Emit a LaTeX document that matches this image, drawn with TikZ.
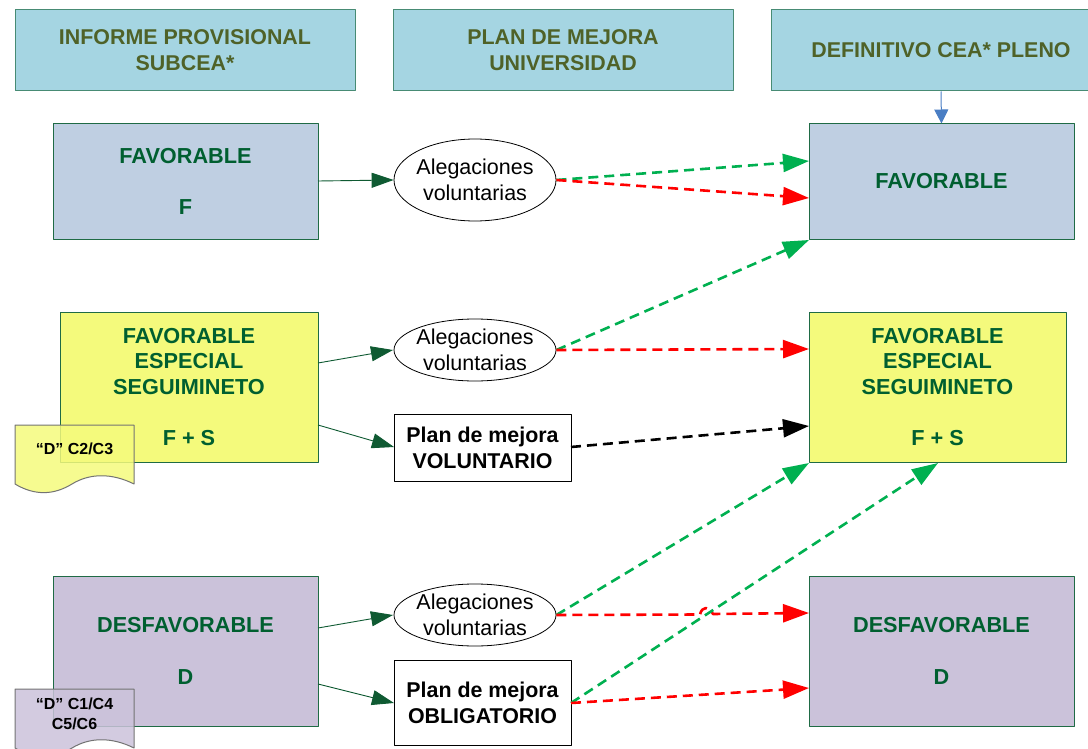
\documentclass[tikz,border=0pt]{standalone}
\usepackage{fontspec}
\setmainfont{Liberation Sans}
\usetikzlibrary{arrows.meta,shapes.geometric}
\definecolor{headfill}{HTML}{A5D5E2}
\definecolor{bluefill}{HTML}{BFCFE2}
\definecolor{yellowfill}{HTML}{F4FA7C}
\definecolor{purplefill}{HTML}{CBC2DA}
\definecolor{boxline}{HTML}{1F6B45}
\definecolor{boxtext}{HTML}{005F30}
\definecolor{headtext}{HTML}{4F6228}
\definecolor{entryline}{HTML}{0F5A32}
\definecolor{greenline}{HTML}{00B050}
\definecolor{blueline}{HTML}{4A7EC4}
\tikzset{
  headbox/.style={draw=boxline!70!headfill,fill=headfill,line width=1pt,minimum width=340pt,minimum height=81pt,align=center,text=headtext,font=\fontsize{21.4}{26}\selectfont\bfseries},
  resultbox/.style={draw=boxline,line width=1pt,align=center,text=boxtext,font=\fontsize{21.7}{25.6}\selectfont\bfseries},
  talk/.style={draw=black,ellipse,fill=white,line width=.8pt,minimum width=162pt,inner sep=-6pt,align=center,font=\fontsize{21.5}{26}\selectfont},
  planbox/.style={draw=black,fill=white,line width=.8pt,minimum width=177pt,align=center,font=\fontsize{21.4}{26}\selectfont\bfseries},
  docshape/.style={draw=black!55,line width=1pt,fill opacity=.85},
  doctext/.style={align=center,font=\fontsize{16}{20}\selectfont\bfseries},
  entry/.style={entryline,line width=.9pt,-{Triangle[length=22pt,width=15pt]}},
  dashgreen/.style={greenline,line width=2.6pt,dash pattern=on 10pt off 6pt,-{Triangle[length=26pt,width=18pt]}},
  dashred/.style={red,line width=2.6pt,dash pattern=on 10pt off 6pt,-{Triangle[length=26pt,width=18pt]}},
  dashblack/.style={black,line width=2.6pt,dash pattern=on 10pt off 6pt,-{Triangle[length=26pt,width=18pt]}}
}
\begin{document}
\begin{tikzpicture}[x=1pt,y=-1pt,line join=round]
	\useasboundingbox (0,0) rectangle (1088,749);
	\clip (0,0) rectangle (1088,749);
	% column heads
	\node[headbox] (headA) at (185,50.5) {INFORME PROVISIONAL\\SUBCEA*};
	\node[headbox] (headB) at (563,50.5) {PLAN DE MEJORA\\UNIVERSIDAD};
	\node[headbox] (headC) at (941,50.5) {DEFINITIVO CEA* PLENO};
	% left column
	\node[resultbox,fill=bluefill,minimum width=265pt,minimum height=115pt] (favL) at (185.5,181.5) {FAVORABLE\\ \\F};
	\node[resultbox,fill=yellowfill,minimum width=258pt,minimum height=150pt] (fesL) at (189,387) {FAVORABLE\\ESPECIAL\\SEGUIMINETO\\ \\F + S};
	\node[resultbox,fill=purplefill,minimum width=265pt,minimum height=150pt] (desL) at (185.5,651) {DESFAVORABLE\\ \\D};
	% right column
	\node[resultbox,fill=bluefill,minimum width=265pt,minimum height=115pt] (favR) at (941.5,181.5) {FAVORABLE};
	\node[resultbox,fill=yellowfill,minimum width=257pt,minimum height=150pt] (fesR) at (937.5,387) {FAVORABLE\\ESPECIAL\\SEGUIMINETO\\ \\F + S};
	\node[resultbox,fill=purplefill,minimum width=265pt,minimum height=150pt] (desR) at (941.5,651) {DESFAVORABLE\\ \\D};
	% middle column
	\node[talk,minimum height=82pt] (talkA) at (475,180) {Alegaciones\\voluntarias};
	\node[talk,minimum height=62pt] (talkB) at (475,350) {Alegaciones\\voluntarias};
	\node[talk,minimum height=62pt] (talkC) at (475,615) {Alegaciones\\voluntarias};
	\node[planbox,minimum height=67pt] (planV) at (482.5,447.5) {Plan de mejora\\VOLUNTARIO};
	\node[planbox,minimum height=85pt] (planO) at (482.5,702.5) {Plan de mejora\\OBLIGATORIO};
	% documents
	\draw[docshape,fill=yellowfill] (15,425) -- (134,425) -- (134,484) .. controls (112,473) and (90,473) .. (72,484) .. controls (54,495) and (35,496) .. (15,484) -- cycle;
	\node[doctext] (docA) at (74.5,449) {“D” C2/C3};
	\draw[docshape,fill=purplefill] (15,689) -- (134,689) -- (134,748) .. controls (112,737) and (90,737) .. (72,748) .. controls (54,759) and (35,760) .. (15,748) -- cycle;
	\node[doctext] (docB) at (74.5,714) {“D” C1/C4\\C5/C6};
	% free ends on the box sides
	\coordinate (favLout) at (318,181);
	\coordinate (fesLoutA) at (318,363);
	\coordinate (fesLoutB) at (318,425);
	\coordinate (desLoutA) at (318,628);
	\coordinate (desLoutB) at (318,684);
	\coordinate (talkBin) at (393,350);
	\coordinate (talkCin) at (393,615);
	\coordinate (planVin) at (394,447);
	\coordinate (planOin) at (394,703);
	\coordinate (planVout) at (571,447);
	\coordinate (planOout) at (571,703);
	\coordinate (favRa) at (809,161);
	\coordinate (favRb) at (809,198);
	\coordinate (favRc) at (809,240);
	\coordinate (fesRa) at (809,349);
	\coordinate (fesRb) at (809,426);
	\coordinate (fesRc) at (809,463);
	\coordinate (fesRd) at (938,463);
	\coordinate (desRa) at (809,613);
	\coordinate (desRb) at (809,688);
	\coordinate (jumpA) at (700,614.5);
	\coordinate (jumpB) at (713,614);
	% connectors
	\draw[entry] (favLout) -- (talkA.west);
	\draw[entry] (fesLoutA) -- (talkBin);
	\draw[entry] (fesLoutB) -- (planVin);
	\draw[entry] (desLoutA) -- (talkCin);
	\draw[entry] (desLoutB) -- (planOin);
	\draw[blueline,line width=1pt,-{Triangle[length=14pt,width=14pt]}] (headC.south) -- (favR.north);
	\draw[dashgreen] (talkA.east) -- (favRa);
	\draw[dashred] (talkA.east) -- (favRb);
	\draw[dashgreen] (talkB.east) -- (favRc);
	\draw[dashred] (talkB.east) -- (fesRa);
	\draw[dashblack] (planVout) -- (fesRb);
	\draw[dashgreen] (talkC.east) -- (fesRc);
	\draw[dashred] (talkC.east) -- (jumpA) .. controls (702,606) and (709,606) .. (jumpB) -- (desRa);
	\draw[dashgreen] (planOout) -- (fesRd);
	\draw[dashred] (planOout) -- (desRb);
\end{tikzpicture}
\end{document}
